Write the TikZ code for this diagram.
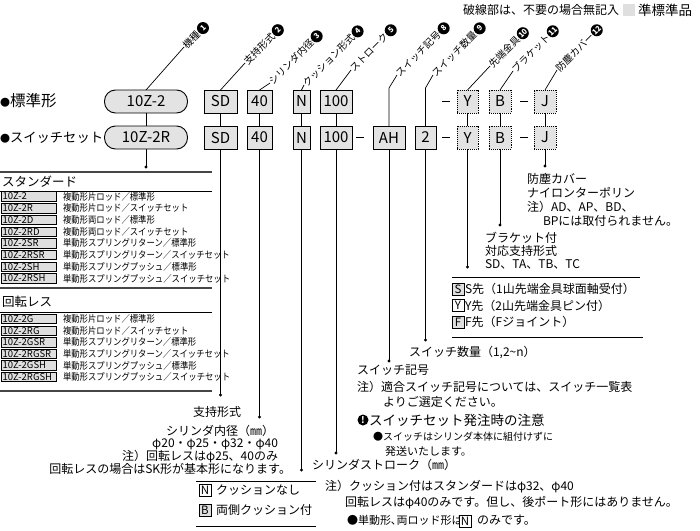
\documentclass[tikz,border=0pt]{standalone}
\usepackage{fontspec}
\usepackage{graphicx}
\setmainfont{Noto Sans CJK JP}
\newcommand{\fsz}[1]{\fontsize{#1}{#1}\selectfont}
\newcommand{\narrow}[2]{\scalebox{#1}[1]{#2}}
\begin{document}
\begin{tikzpicture}[x=1pt,y=-1pt,
  every node/.style={inner sep=0pt, outer sep=0pt},
  cbox/.style={draw=black, fill=gray!22, line width=0.9pt, minimum height=23pt, font=\fsz{15}},
  dbox/.style={cbox, densely dotted},
  rbox/.style={draw=black, fill=gray!22, line width=0.9pt, rounded corners=11pt, minimum height=23pt, minimum width=83pt, font=\fsz{15}},
  lab/.style={font=\fsz{9.8}, rotate=45, anchor=west, inner sep=0.6pt},
  num/.style={circle, fill=black, text=white, minimum size=12pt, font=\fsz{7.5}\bfseries, rotate=45, anchor=west},
  ln/.style={line width=0.7pt},
  dot/.style={circle, fill=black, minimum size=3.2pt},
  txt/.style={anchor=west, font=\fsz{12}},
  code/.style={draw=black, line width=0.6pt, fill=gray!25, text width=52pt, inner xsep=1.5pt, minimum height=9.5pt, align=left, anchor=west, font=\fsz{9.5}},
  desc/.style={anchor=west, font=\fsz{9.5}},
  tbox/.style={draw=black, line width=0.8pt, minimum width=12pt, minimum height=12pt, font=\fsz{11.5}},
  thick rule/.style={line width=2pt, gray!55!black},
  thin rule/.style={line width=0.8pt, black}
]
\useasboundingbox (0,0) rectangle (700,530);

% legend
\node[anchor=east, font=\fsz{12}] (leg) at (619,10) {破線部は、不要の場合無記入};
\node[fill=gray!25, minimum size=12pt] (legsq) at (628.5,10) {};
\node[anchor=west, font=\fsz{13.5}] (legt) at (638,10) {準標準品};

% row labels
\node[anchor=west, font=\fsz{15.5}] (r1) at (0,101) {{\fsz{10}●}標準形};
\node[anchor=west, font=\fsz{13.3}] (r2) at (0,138) {{\fsz{10}●}スイッチセット};

% row 1 boxes
\node[rbox] (m1) at (146,101.5) {10Z-2};
\node[cbox, minimum width=33pt] (sd1) at (220.5,101.5) {SD};
\node[cbox, minimum width=25pt] (bo1) at (259.5,101.5) {40};
\node[cbox, minimum width=17pt] (cu1) at (301.5,101.5) {N};
\node[cbox, minimum width=32pt] (st1) at (336,101.5) {100};
\node[dbox, minimum width=21pt] (y1) at (467.5,101.5) {Y};
\node[dbox, minimum width=22pt] (b1) at (500,101.5) {B};
\node[dbox, minimum width=22pt] (j1) at (545,101.5) {J};

% row 2 boxes
\node[rbox] (m2) at (146,137.5) {10Z-2R};
\node[cbox, minimum width=33pt] (sd2) at (220.5,137.5) {SD};
\node[cbox, minimum width=25pt] (bo2) at (259.5,137.5) {40};
\node[cbox, minimum width=17pt] (cu2) at (301.5,137.5) {N};
\node[cbox, minimum width=32pt] (st2) at (336,137.5) {100};
\node[cbox, minimum width=32pt] (ah2) at (389,137.5) {AH};
\node[cbox, minimum width=21pt] (sw2) at (425.5,137.5) {2};
\node[dbox, minimum width=21pt] (y2) at (467.5,137.5) {Y};
\node[dbox, minimum width=22pt] (b2) at (500,137.5) {B};
\node[dbox, minimum width=22pt] (j2) at (545,137.5) {J};

% dashes
\draw[line width=1pt] (442,101.5) -- (450,101.5);
\draw[line width=1pt] (520,101.5) -- (528,101.5);
\draw[line width=1pt] (356,137.5) -- (364,137.5);
\draw[line width=1pt] (442,137.5) -- (450,137.5);
\draw[line width=1pt] (520,137.5) -- (528,137.5);

% row-to-row connectors
\foreach \a/\b in {m1/m2, sd1/sd2, bo1/bo2, cu1/cu2, st1/st2, y1/y2, b1/b2, j1/j2}
  \draw[ln] (\a.south) -- (\b.north);

% rotated labels
\node[lab] (l1) at (184,47) {機種};
\node[lab] (l2) at (245,63) {支持形式};
\node[lab] (l3) at (270,83) {シリンダ内径};
\node[lab] (l4) at (304,85) {クッション形式};
\node[lab] (l5) at (351,70) {ストローク};
\node[lab] (l8) at (397,75) {スイッチ記号};
\node[lab] (l9) at (433,75) {スイッチ数量};
\node[lab] (l10) at (490,66) {先端金具};
\node[lab] (l11) at (513,71) {ブラケット};
\node[lab] (l12) at (557,70) {防塵カバー};
\foreach \k/\n in {1/1,2/2,3/3,4/4,5/5,8/8,9/9,10/10,11/11,12/12}
  \node[num] (n\k) at (l\k.east) {\n};

\coordinate (k8) at (389,88);
\coordinate (k9) at (425.5,88);
\draw[ln] (m1.north) -- (l1.west);
\draw[ln] (sd1.north) -- (l2.west);
\draw[ln] (bo1.north) -- (l3.west);
\draw[ln] (cu1.north) -- (l4.west);
\draw[ln] (st1.north) -- (l5.west);
\draw[ln] (ah2.north) -- (k8) -- (l8.west);
\draw[ln] (sw2.north) -- (k9) -- (l9.west);
\draw[ln] (y1.north) -- (l10.west);
\draw[ln] (b1.north) -- (l11.west);
\draw[ln] (j1.north) -- (l12.west);

% drops with dots
\node[dot] (d1) at (m2.south |- 0,167) {};
\node[dot] (d2) at (sd2.south |- 0,395) {};
\node[dot] (d3) at (bo2.south |- 0,417) {};
\node[dot] (d4) at (cu2.south |- 0,470) {};
\node[dot] (d5) at (st2.south |- 0,453) {};
\node[dot] (d8) at (ah2.south |- 0,361) {};
\node[dot] (d9) at (sw2.south |- 0,340) {};
\node[dot] (d10) at (y2.south |- 0,267) {};
\node[dot] (d11) at (b2.south |- 0,225) {};
\node[dot] (d12) at (j2.south |- 0,166) {};
\draw[ln] (m2.south) -- (d1.center);
\draw[ln] (sd2.south) -- (d2.center);
\draw[ln] (bo2.south) -- (d3.center);
\draw[ln] (cu2.south) -- (d4.center);
\draw[ln] (st2.south) -- (d5.center);
\draw[ln] (ah2.south) -- (d8.center);
\draw[ln] (sw2.south) -- (d9.center);
\draw[ln] (y2.south) -- (d10.center);
\draw[ln] (b2.south) -- (d11.center);
\draw[ln] (j2.south) -- (d12.center);

% table: standard
\draw[thick rule] (0,172) -- (212,172);
\node[anchor=west, font=\fsz{12.5}] (hstd) at (2,182) {スタンダード};
\draw[thin rule] (0,191) -- (212,191);
\foreach \c/\d [count=\i from 0] in {10Z-2/複動形片ロッド／標準形, 10Z-2R/複動形片ロッド／スイッチセット, 10Z-2D/複動形両ロッド／標準形, 10Z-2RD/複動形両ロッド／スイッチセット, 10Z-2SR/単動形スプリングリターン／標準形, 10Z-2RSR/単動形スプリングリターン／スイッチセット, 10Z-2SH/単動形スプリングプッシュ／標準形, 10Z-2RSH/単動形スプリングプッシュ／スイッチセット}{
  \node[code] (tc\i) at (1,196.5+11.7*\i) {\mbox{\c}};
  \node[desc] (td\i) at (63,196.5+11.7*\i) {\narrow{0.88}{\d}};
}
% table: rotation-less
\draw[thick rule] (0,288) -- (212,288);
\node[anchor=west, font=\fsz{12.5}] (hrot) at (2,302) {回転レス};
\draw[thin rule] (0,312) -- (212,312);
\foreach \c/\d [count=\i from 0] in {10Z-2G/複動形片ロッド／標準形, 10Z-2RG/複動形片ロッド／スイッチセット, 10Z-2GSR/単動形スプリングリターン／標準形, 10Z-2RGSR/単動形スプリングリターン／スイッチセット, 10Z-2GSH/単動形スプリングプッシュ／標準形, 10Z-2RGSH/単動形スプリングプッシュ／スイッチセット}{
  \node[code] (gc\i) at (1,319+11.6*\i) {\mbox{\c}};
  \node[desc] (gd\i) at (63,319+11.6*\i) {\narrow{0.88}{\d}};
}
\draw[thick rule] (0,391) -- (212,391);

% dust cover
\node[txt] (t12a) at (527,179) {防塵カバー};
\node[txt] (t12b) at (527,193) {ナイロンターポリン};
\node[txt] (t12c) at (527,207) {注）AD、AP、BD、};
\node[txt] (t12d) at (543,221) {BPには取付られません。};
% bracket
\node[txt] (t11a) at (485,238) {ブラケット付};
\node[txt] (t11b) at (485,251) {対応支持形式};
\node[txt] (t11c) at (485,264) {SD、TA、TB、TC};
% rod end
\draw[thin rule] (452,277) -- (640,277);
\node[tbox, fill=gray!25, anchor=west] (bs) at (452,289) {S};
\node[txt] (ts) at (465,289) {S先（1山先端金具球面軸受付）};
\node[tbox, fill=white, anchor=west] (by) at (452,305.5) {Y};
\node[txt] (ty) at (465,305.5) {Y先（2山先端金具ピン付）};
\node[tbox, fill=gray!25, anchor=west] (bf) at (452,322) {F};
\node[txt] (tf) at (465,322) {F先（Fジョイント）};
\draw[thin rule] (452,337) -- (643,337);
% switch qty
\node[txt] (t9) at (409,352) {スイッチ数量（1,2{\textasciitilde}n）};
% switch symbol
\node[txt] (t8a) at (357,370) {スイッチ記号};
\node[txt] (t8b) at (357,387) {注）適合スイッチ記号については、スイッチ一覧表};
\node[txt] (t8c) at (383,402) {よりご選定ください。};
\node[circle, fill=black, text=white, minimum size=11pt, font=\fsz{9}\bfseries] (warn) at (363,420) {!};
\node[anchor=west, font=\fsz{13.5}] (tw) at (369,420) {スイッチセット発注時の注意};
\node[anchor=west, font=\fsz{10}] (tw1) at (373,437) {●スイッチはシリンダ本体に組付けずに};
\node[anchor=west, font=\fsz{11}] (tw2) at (385,451) {発送いたします。};
% stroke
\node[txt] (t5) at (312,465) {シリンダストローク（㎜）};
% support / bore
\node[font=\fsz{12}] (t2) at (217,412) {支持形式};
\node[anchor=east, font=\fsz{12}] (t3a) at (274,431) {シリンダ内径（㎜）};
\node[anchor=east, font=\fsz{12}] (t3b) at (278,444) {φ20・φ25・φ32・φ40};
\node[anchor=east, font=\fsz{12}] (t3c) at (278,457) {注）回転レスはφ25、40のみ};
\node[anchor=east, font=\fsz{12}] (t3d) at (291,469) {回転レスの場合はSK形が基本形になります。};
% cushion
\draw[thin rule] (196,481) -- (316,481);
\node[tbox, fill=white, anchor=west] (bn) at (199,490) {N};
\node[txt] (tn) at (216,490) {クッションなし};
\node[tbox, fill=gray!25, anchor=west] (bb) at (199,510) {B};
\node[txt] (tb) at (216,510) {両側クッション付};
\draw[thin rule] (196,526) -- (316,526);
% cushion notes
\node[txt] (c1) at (325,487) {注）クッション付はスタンダードはφ32、φ40};
\node[txt] (c2) at (345,503) {回転レスはφ40のみです。但し、後ポート形にはありません。};
\node[anchor=west, font=\fsz{11}] (c3) at (347,520) {●単動形､両ロッド形は};
\node[tbox, fill=white, anchor=west] (bn2) at (459,521) {N};
\node[txt] (c4) at (477,520) {のみです。};
\end{tikzpicture}
\end{document}
